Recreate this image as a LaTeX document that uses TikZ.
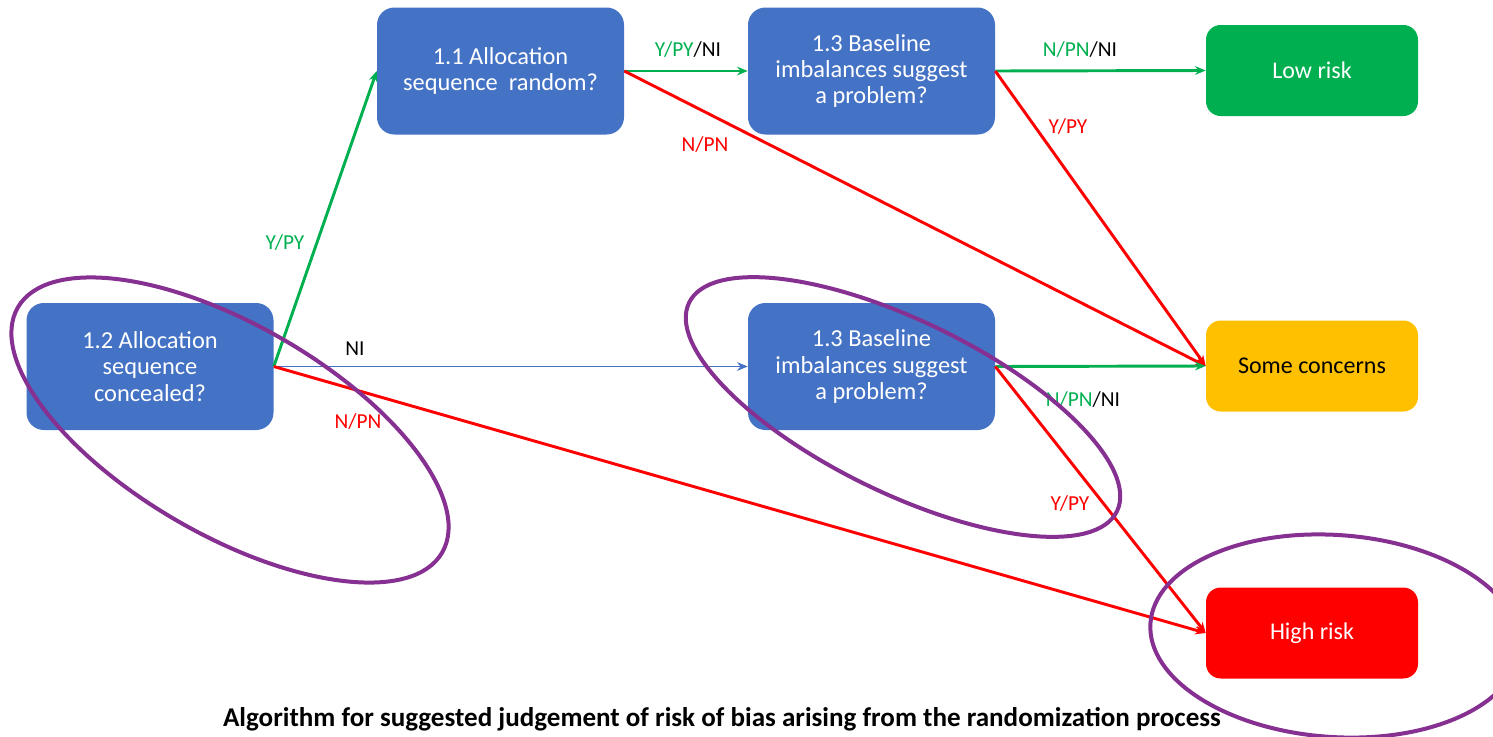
\documentclass[tikz,border=0pt]{standalone}
\usepackage{fontspec}
\setmainfont{Carlito}
\usetikzlibrary{arrows.meta}
\definecolor{boxblue}{RGB}{68,114,196}
\definecolor{okgreen}{RGB}{0,176,80}
\definecolor{warnamber}{RGB}{255,192,0}
\definecolor{riskred}{RGB}{255,0,0}
\definecolor{ringpurple}{RGB}{134,48,146}
\tikzset{
  qbox/.style={fill=boxblue, rounded corners=13pt, minimum width=185.25pt, minimum height=95.25pt,
    align=center, text=white, font=\fontsize{18.3}{19.8}\selectfont, inner sep=0pt},
  rbox/.style={rounded corners=11pt, minimum width=159pt, minimum height=68.25pt,
    align=center, font=\fontsize{18}{21}\selectfont, inner sep=0pt},
  lbl/.style={font=\fontsize{16}{18}\selectfont, inner sep=0pt},
  tipx/.style={-{Stealth[length=8pt,width=6.5pt]}},
  goline/.style={tipx, draw=okgreen, line width=2.2pt},
  noline/.style={tipx, draw=riskred, line width=2.2pt},
  niline/.style={tipx, draw=boxblue, line width=1.3pt},
  ring/.style={draw=ringpurple, line width=3pt}
}
\begin{document}
\begin{tikzpicture}[x=0.75pt,y=-0.75pt]
\useasboundingbox (0,0) rectangle (1493,736);
\clip (0,0) rectangle (1493,736);
% question boxes
\node[qbox] (q11) at (500.5,71) {1.1 Allocation\\sequence\ \ random?};
\node[qbox] (q13a) at (871.5,71) {1.3 Baseline\\imbalances suggest\\a problem?};
\node[qbox] (q12) at (150,366.5) {1.2 Allocation\\sequence\\concealed?};
\node[qbox] (q13b) at (871.5,366.5) {1.3 Baseline\\imbalances suggest\\a problem?};
% result boxes
\node[rbox, fill=okgreen, text=white] (low) at (1312,70.5) {Low risk};
\node[rbox, fill=warnamber, text=black] (some) at (1312,366) {Some concerns};
\node[rbox, fill=riskred, text=white] (high) at (1312,633) {High risk};
% connectors
\draw[goline] (q12.east) -- (q11.west);
\draw[niline] (q12.east) -- (q13b.west);
\draw[noline] (q12.east) -- (high.west);
\draw[goline] (q11.east) -- (q13a.west);
\draw[noline] (q11.east) -- (some.west);
\draw[goline] (q13a.east) -- (low.west);
\draw[noline] (q13a.east) -- (some.west);
\draw[goline] (q13b.east) -- (some.west);
\draw[noline] (q13b.east) -- (high.west);
% labels
\node[lbl, text=okgreen] (l1) at (285,243) {Y/PY};
\node[lbl, text=black] (l2) at (355,349) {NI};
\node[lbl, text=riskred] (l3) at (358,422) {N/PN};
\node[lbl] (l4) at (688,50) {\textcolor{okgreen}{Y/PY}/NI};
\node[lbl, text=riskred] (l5) at (705,145) {N/PN};
\node[lbl] (l6) at (1080,50) {\textcolor{okgreen}{N/PN}/NI};
\node[lbl, text=riskred] (l7) at (1068,127) {Y/PY};
\node[lbl] (l8) at (1083,400) {\textcolor{okgreen}{N/PN}/NI};
\node[lbl, text=riskred] (l9) at (1070,504) {Y/PY};
% title
\node[font=\fontsize{20.3}{24}\bfseries, inner sep=0pt] (title) at (722,719) {Algorithm for suggested judgement of risk of bias arising from the randomization process};
% highlight rings
\draw[ring, rotate around={-30:(230,430)}] (230,430) ellipse [x radius=245, y radius=105];
\draw[ring, rotate around={-26:(903,407)}] (903,407) ellipse [x radius=238, y radius=86];
\draw[ring, rotate around={-4:(1335,636)}] (1335,636) ellipse [x radius=185, y radius=101];
\end{tikzpicture}
\end{document}
